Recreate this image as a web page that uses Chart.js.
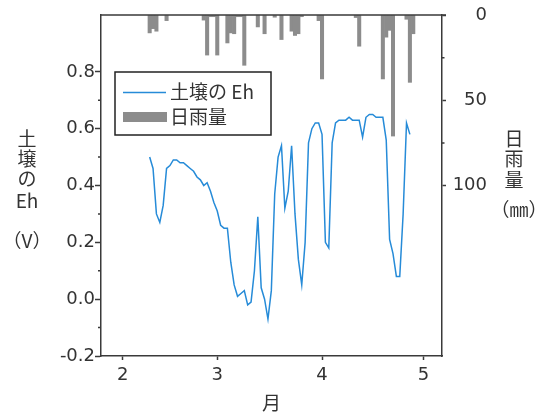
<!DOCTYPE html>
<html>
<head>
<meta charset="utf-8">
<script src="https://cdn.jsdelivr.net/npm/chart.js@4.4.1/dist/chart.umd.min.js"></script>
<style>
  html, body { margin: 0; padding: 0; background: #fff; }
  #wrap { width: 547px; height: 412px; }
</style>
</head>
<body>
<div id="wrap"><canvas id="chart"></canvas></div>
<script>
// x axis = day of year (Feb 1 = 32)
const monthStarts = [32, 60, 91, 121];
const monthLabels = ['2', '3', '4', '5'];

// soil Eh (V), one value per day starting at ehStartDay
const ehStartDay = 40;
const ehValues = [
  0.50, 0.46, 0.30, 0.27, 0.33, 0.46, 0.47, 0.49, 0.49, 0.48,
  0.48, 0.47, 0.46, 0.45, 0.43, 0.42, 0.40, 0.41, 0.38, 0.34,
  0.31, 0.26, 0.25, 0.25, 0.13, 0.05, 0.01, 0.02, 0.03, -0.02,
  -0.01, 0.10, 0.29, 0.04, 0.00, -0.07, 0.03, 0.37, 0.50, 0.54,
  0.32, 0.38, 0.54, 0.30, 0.14, 0.05, 0.20, 0.55, 0.60, 0.62,
  0.62, 0.58, 0.20, 0.18, 0.55, 0.62, 0.63, 0.63, 0.63, 0.64,
  0.63, 0.63, 0.63, 0.57, 0.64, 0.65, 0.65, 0.64, 0.64, 0.64,
  0.56, 0.21, 0.16, 0.08, 0.08, 0.30, 0.62, 0.58
];

// daily rainfall (mm)
const rainDays = [40, 41, 42, 45, 56, 57, 58, 59, 60, 63, 64, 65, 66, 67, 68, 72, 74, 77, 79, 82, 83, 84, 85, 90, 91, 101, 102, 109, 110, 111, 112, 116, 117, 118];
const rainMm   = [10.5, 8, 9.5, 3.3, 3, 23.5, 1, 1, 23.5, 16.4, 10.5, 11, 1, 1, 29.5, 7, 11, 1.3, 14.4, 9.5, 12, 11, 1, 3.3, 37.5, 1.5, 18.3, 37.5, 13, 9, 71, 2.5, 39.5, 11];

const ehTicks = [-0.2, 0, 0.2, 0.4, 0.6, 0.8];
const ehMinor = [-0.1, 0.1, 0.3, 0.5, 0.7];
const rainTicks = [0, 50, 100];
const rainMinor = [25, 75];

const axisColor = '#3a3a3a';
const textColor = '#333';
const lineColor = '#268bd8';
const barColor = '#8c8c8c';
const numFont = "'DejaVu Sans', sans-serif";
const jpFont = "'Noto Sans CJK JP', sans-serif";

const decorations = {
  id: 'decorations',
  afterDraw(chart) {
    const { ctx, chartArea: a, scales } = chart;
    ctx.save();
    ctx.strokeStyle = axisColor;
    ctx.lineWidth = 1.5;
    ctx.beginPath();
    ctx.moveTo(a.left, a.top);
    ctx.lineTo(a.right + 4, a.top);
    // minor ticks
    ehMinor.forEach(v => {
      const y = scales.y.getPixelForValue(v);
      ctx.moveTo(a.left - 3, y);
      ctx.lineTo(a.left, y);
    });
    rainMinor.forEach(v => {
      const y = scales.y2.getPixelForValue(v);
      ctx.moveTo(a.right, y);
      ctx.lineTo(a.right + 2.5, y);
    });
    ctx.stroke();

    // vertical axis titles
    ctx.fillStyle = textColor;
    ctx.textAlign = 'center';
    ctx.textBaseline = 'middle';
    ctx.font = '19px ' + jpFont;
    [['土', 139], ['壌', 159], ['の', 179], ['Eh', 201], ['（V）', 241]].forEach(([t, y]) => ctx.fillText(t, 27, y));
    [['日', 139], ['雨', 159], ['量', 180]].forEach(([t, y]) => ctx.fillText(t, 514, y));
    ctx.fillText('（㎜）', 519, 210);

    // legend box
    const ds = chart.data.datasets;
    ctx.fillStyle = '#fff';
    ctx.fillRect(115, 72, 156, 63);
    ctx.strokeStyle = '#222';
    ctx.lineWidth = 1.5;
    ctx.strokeRect(115, 72, 156, 63);
    ctx.strokeStyle = lineColor;
    ctx.beginPath();
    ctx.moveTo(123, 92.5);
    ctx.lineTo(166, 92.5);
    ctx.stroke();
    ctx.fillStyle = barColor;
    ctx.fillRect(123, 112, 44, 10);
    ctx.fillStyle = textColor;
    ctx.textAlign = 'left';
    ctx.fillText(ds[0].label, 170, 92);
    ctx.fillText(ds[1].label, 170, 117);
    ctx.restore();
  }
};

new Chart(document.getElementById('chart').getContext('2d'), {
  type: 'line',
  data: {
    datasets: [{
      label: '土壌の Eh',
      data: ehValues.map((v, i) => ({ x: ehStartDay + i, y: v })),
      yAxisID: 'y',
      borderColor: lineColor,
      borderWidth: 1.5,
      pointRadius: 0,
      tension: 0,
      fill: false
    }, {
      type: 'bar',
      label: '日雨量',
      data: rainDays.map((d, i) => ({ x: d, y: rainMm[i] })),
      yAxisID: 'y2',
      backgroundColor: barColor,
      borderWidth: 0,
      barPercentage: 1,
      categoryPercentage: 1
    }]
  },
  options: {
    responsive: true,
    maintainAspectRatio: false,
    devicePixelRatio: 1,
    animation: false,
    layout: { padding: { top: 15, right: 60, bottom: 0, left: 0 } },
    plugins: { legend: { display: false }, tooltip: { enabled: false } },
    scales: {
      x: {
        type: 'linear',
        min: 25.6,
        max: 126.5,
        offset: false,
        afterBuildTicks: s => { s.ticks = monthStarts.map(v => ({ value: v })); },
        afterFit: s => { s.height = 56; },
        ticks: {
          callback: v => monthLabels[monthStarts.indexOf(v)],
          font: { family: numFont, size: 18 },
          color: textColor,
          padding: 5,
          maxRotation: 0,
          autoSkip: false
        },
        grid: { display: true, offset: false, drawOnChartArea: false, tickLength: 4, color: axisColor, tickColor: axisColor, tickWidth: 1.5 },
        border: { display: true, color: axisColor, width: 1.5 },
        title: { display: true, text: '月', font: { family: jpFont, size: 19, lineHeight: 1 }, color: textColor, padding: 0 }
      },
      y: {
        type: 'linear',
        position: 'left',
        min: -0.2,
        max: 1.0,
        afterBuildTicks: s => { s.ticks = ehTicks.map(v => ({ value: v })); },
        afterFit: s => { s.width = 101; },
        ticks: {
          callback: v => v.toFixed(1),
          font: { family: numFont, size: 18 },
          color: textColor,
          padding: 0
        },
        grid: { display: true, drawOnChartArea: false, tickLength: 6, color: axisColor, tickColor: axisColor, tickWidth: 1.5 },
        border: { display: true, color: axisColor, width: 1.5 }
      },
      y2: {
        type: 'linear',
        position: 'right',
        min: 0,
        max: 200,
        reverse: true,
        afterBuildTicks: s => { s.ticks = rainTicks.map(v => ({ value: v })); },
        afterFit: s => { s.width = 45; },
        ticks: {
          font: { family: numFont, size: 18 },
          color: textColor,
          padding: 4,
          crossAlign: 'far'
        },
        grid: { display: true, drawOnChartArea: false, tickLength: 4, color: axisColor, tickColor: axisColor, tickWidth: 1.5 },
        border: { display: true, color: axisColor, width: 1.5 }
      }
    }
  },
  plugins: [decorations]
});
</script>
</body>
</html>
